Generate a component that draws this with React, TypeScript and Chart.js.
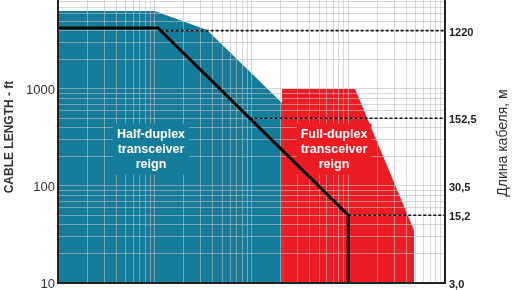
import React, { useEffect, useRef } from 'react';
import { Chart, registerables } from 'chart.js';

Chart.register(...registerables);

// Data rate (bps) / cable length (ft)
const halfDuplexRate = [1e4, 1e5, 3.47e5, 2.07e6, 2.07e6];
const halfDuplexLength = [6370, 6370, 4050, 717, 10];
const fullDuplexRate = [2.07e6, 2.07e6, 1.175e7, 4.78e7, 4.78e7];
const fullDuplexLength = [10, 1000, 1000, 35, 10];
const limitRate = [1e4, 1.08e5, 1e7, 1e7];
const limitLength = [4250, 4250, 50, 10];
const refLengthsFt = [4000, 500, 50];
const refStartRate = [1.15e5, 9.55e5, 1e7];
const refEndRate = 1e8;
const leftTicks = [10, 100, 1000];
const rightTicksFt = [4000, 500, 100, 50, 10];
const rightTickLabels = ['1220', '152,5', '30,5', '15,2', '3,0'];
const halfLabel = ['Half-duplex', 'transceiver', 'reign'];
const fullLabel = ['Full-duplex', 'transceiver', 'reign'];
const leftTitle = 'CABLE LENGTH - ft';
const rightTitle = 'Длина кабеля, м';

const TEAL = '#167c9c';
const RED = '#ec1c24';
const GRID = 'rgba(190,190,190,0.6)';
const FONT = "'Liberation Sans', Arial, sans-serif";

function logTicks(min: number, max: number) {
  const out: { value: number }[] = [];
  for (let e = Math.floor(Math.log10(min)); e <= Math.ceil(Math.log10(max)); e++) {
    for (let k = 1; k <= 9; k++) {
      const v = k * Math.pow(10, e);
      if (v >= min - 1e-9 && v <= max + 1e-9) out.push({ value: v });
    }
  }
  return out;
}

const zip = (xs: number[], ys: number[]) => xs.map((x, i) => ({ x, y: ys[i] }));

const noPad = (s: any) => {
  s.paddingTop = 0;
  s.paddingBottom = 0;
  s.paddingLeft = 0;
  s.paddingRight = 0;
};

const overlayPlugin = {
  id: 'overlay',
  beforeDatasetDraw(chart: any, args: any) {
    if (chart.data.datasets[args.index].overlay) return false;
  },
  afterDraw(chart: any) {
    const ctx = chart.ctx;
    const a = chart.chartArea;
    const xs = chart.scales.x;
    const ys = chart.scales.y;

    const drawLabel = (lines: string[], xv: number, yv: number, bg: string) => {
      const cx = xs.getPixelForValue(xv);
      const cy = ys.getPixelForValue(yv);
      ctx.save();
      ctx.font = `bold 12.5px ${FONT}`;
      const lh = 15;
      const w = Math.max(...lines.map((l) => ctx.measureText(l).width)) + 8;
      const h = lines.length * lh + 6;
      ctx.fillStyle = bg;
      ctx.fillRect(cx - w / 2, cy - h / 2, w, h);
      ctx.fillStyle = '#ffffff';
      ctx.textAlign = 'center';
      ctx.textBaseline = 'middle';
      lines.forEach((l, i) => ctx.fillText(l, cx, cy + (i - (lines.length - 1) / 2) * lh));
      ctx.restore();
    };
    drawLabel(halfLabel, 9.15e4, 240, TEAL);
    drawLabel(fullLabel, 7.13e6, 240, RED);

    ctx.save();
    ctx.beginPath();
    ctx.rect(a.left, a.top - 2, a.right - a.left, a.bottom - a.top + 2);
    ctx.clip();
    chart.data.datasets.forEach((ds: any, i: number) => {
      if (ds.overlay) chart.getDatasetMeta(i).controller.draw();
    });
    ctx.restore();

    // redraw axis borders on top
    ctx.save();
    ctx.strokeStyle = '#222';
    ctx.lineWidth = 2;
    ctx.beginPath();
    ctx.moveTo(a.left, a.top);
    ctx.lineTo(a.left, a.bottom);
    ctx.lineTo(a.right, a.bottom);
    ctx.lineTo(a.right, a.top);
    ctx.stroke();
    ctx.restore();

    ctx.save();
    ctx.fillStyle = '#333';
    ctx.textAlign = 'center';
    ctx.textBaseline = 'middle';
    ctx.translate(10, 137);
    ctx.rotate(-Math.PI / 2);
    ctx.font = `bold 12px ${FONT}`;
    ctx.fillText(leftTitle, 0, 0);
    ctx.restore();

    ctx.save();
    ctx.fillStyle = '#333';
    ctx.textAlign = 'center';
    ctx.textBaseline = 'middle';
    ctx.translate(503, 143);
    ctx.rotate(-Math.PI / 2);
    ctx.font = `14px ${FONT}`;
    ctx.fillText(rightTitle, 0, 0);
    ctx.restore();
  },
};

export default function App() {
  const ref = useRef<HTMLCanvasElement>(null);

  useEffect(() => {
    if (!ref.current) return;
    Chart.defaults.font.family = FONT;
    const yMin = 10;
    const yMax = 8270;
    const datasets: any[] = [
      {
        label: 'Half-duplex',
        data: zip(halfDuplexRate, halfDuplexLength),
        backgroundColor: TEAL,
        borderWidth: 0,
        fill: 'start',
        pointRadius: 0,
        tension: 0,
      },
      {
        label: 'Full-duplex',
        data: zip(fullDuplexRate, fullDuplexLength),
        backgroundColor: RED,
        borderWidth: 0,
        fill: 'start',
        pointRadius: 0,
        tension: 0,
      },
      ...refLengthsFt.map((len, i) => ({
        label: 'ref' + i,
        overlay: true,
        data: [
          { x: refStartRate[i], y: len },
          { x: refEndRate, y: len },
        ],
        borderColor: '#111',
        borderWidth: 1.6,
        borderDash: [3, 2],
        fill: false,
        pointRadius: 0,
        tension: 0,
      })),
      {
        label: 'limit',
        overlay: true,
        data: zip(limitRate, limitLength),
        borderColor: '#000',
        borderWidth: 3,
        fill: false,
        pointRadius: 0,
        tension: 0,
        borderJoinStyle: 'miter',
      },
    ];

    const chart = new Chart(ref.current, {
      type: 'line',
      data: { datasets },
      options: {
        animation: false,
        responsive: false,
        events: [],
        layout: { padding: { top: 0, bottom: 7, left: 0, right: 0 } },
        plugins: { legend: { display: false }, tooltip: { enabled: false } },
        scales: {
          x: {
            type: 'logarithmic',
            min: 1e4,
            max: 1e8,
            afterBuildTicks: (s: any) => {
              s.ticks = logTicks(1e4, 1e8);
            },
            afterFit: (s: any) => {
              s.height = 0;
              noPad(s);
            },
            ticks: { display: false },
            grid: { color: GRID, lineWidth: 1, drawTicks: false, z: 1 },
            border: { display: true, color: '#222', width: 2, z: 2 },
          },
          y: {
            type: 'logarithmic',
            position: 'left',
            min: yMin,
            max: yMax,
            afterBuildTicks: (s: any) => {
              s.ticks = logTicks(yMin, yMax);
            },
            afterFit: (s: any) => {
              s.width = 58;
              noPad(s);
            },
            ticks: {
              padding: 3,
              color: '#333',
              z: 2,
              labelOffset: 1,
              font: { size: 13, family: FONT },
              autoSkip: false,
              callback: (v: any) => (leftTicks.includes(Number(v)) ? String(v) : ''),
            },
            grid: { color: GRID, lineWidth: 1, drawTicks: false, z: 1 },
            border: { display: true, color: '#222', width: 2, z: 2 },
          },
          y2: {
            type: 'logarithmic',
            position: 'right',
            min: yMin,
            max: yMax,
            afterBuildTicks: (s: any) => {
              s.ticks = rightTicksFt.map((v) => ({ value: v }));
            },
            afterFit: (s: any) => {
              s.width = 71;
              noPad(s);
            },
            ticks: {
              padding: 4,
              color: '#222',
              z: 2,
              labelOffset: 2,
              font: { size: 11, weight: 'bold', family: FONT },
              autoSkip: false,
              callback: (v: any) => {
                const i = rightTicksFt.indexOf(Number(v));
                return i >= 0 ? rightTickLabels[i] : '';
              },
            },
            grid: { display: false, drawTicks: false },
            border: { display: true, color: '#222', width: 2, z: 2 },
          },
        },
      } as any,
      plugins: [overlayPlugin],
    });
    return () => chart.destroy();
  }, []);

  return (
    <div style={{ position: 'fixed', left: 0, top: 0, width: 516, height: 290, background: '#fff' }}>
      <canvas ref={ref} width={516} height={290} style={{ display: 'block' }} />
    </div>
  );
}
